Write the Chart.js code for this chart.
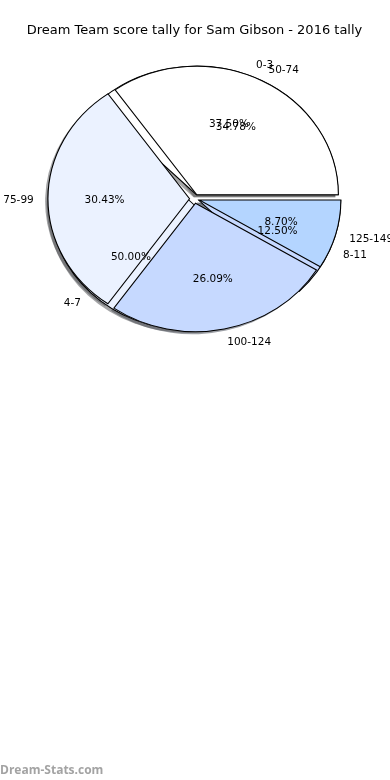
<!DOCTYPE html>
<html>
<head>
<meta charset="utf-8">
<title>Dream Team score tally</title>
<script src="https://cdn.jsdelivr.net/npm/chart.js@4.4.1/dist/chart.umd.min.js"></script>
<style>
  html, body { margin: 0; padding: 0; background: #fff; }
  .wrap { position: relative; width: 390px; height: 780px; }
  .mark {
    position: absolute; left: 0; top: 761px;
    font: bold 12px 'Open Sans', sans-serif; color: #a3a3a3;
  }
</style>
</head>
<body>
<div class="wrap">
  <canvas id="pie"></canvas>
  <div class="mark">Dream-Stats.com</div>
</div>
<script>
// --- DATA --- //
const titleText = 'Dream Team score tally for Sam Gibson - 2016 tally'

// gameweek score bands (drawn underneath)
const weekLabels = ['0-3', '4-7', '8-11']
const weekCounts = [3, 4, 1]
const weekColors = ['#ffffff', '#ebf2ff', '#c6d9ff']

// season point bands (drawn on top)
const seasonLabels = ['50-74', '75-99', '100-124', '125-149']
const seasonCounts = [8, 7, 6, 2]
const seasonColors = ['#ffffff', '#ebf2ff', '#c6d9ff', '#b4d5ff']

// --- LOOK --- //
const SQUASH_X = 1.102 // the pie is a bit wider than tall
const EXPLODE = 4.5    // px every wedge is pushed out from the centre
const SHADOW = 0.02    // shadow offset, fraction of the radius
const TEXT_DROP = 1    // matplotlib centres text a hair lower than canvas 'middle'

Chart.defaults.font.family = "'DejaVu Sans', sans-serif"
Chart.defaults.color = '#000'

// chart.js goes clockwise, the original goes anticlockwise from 3 o'clock,
// so feed the wedges in reverse order and start at 3 o'clock
const rev = arr => arr.slice().reverse()

// 30% of the wedge colour at half alpha, like the matplotlib shadow
function shadowOf(color) {
  const n = parseInt(color.slice(1), 16)
  const r = Math.round(((n >> 16) & 255) * 0.3)
  const g = Math.round(((n >> 8) & 255) * 0.3)
  const b = Math.round((n & 255) * 0.3)
  return `rgba(${r}, ${g}, ${b}, 0.5)`
}

// Plugin: both sets share the full radius, wedges are exploded,
// the pie gets squashed into an ellipse, shadows go below everything
const overlapPie = {
  id: 'overlapPie',
  afterDatasetsUpdate: chart => {
    const outer = chart.getDatasetMeta(0).controller.outerRadius
    const first = chart.getDatasetMeta(0).data[0]
    chart.$centre = { x: first.x, y: first.y }
    chart.data.datasets.forEach((ds, i) => {
      chart.getDatasetMeta(i).data.forEach(arc => {
        const mid = (arc.startAngle + arc.endAngle) / 2
        arc.innerRadius = 0
        arc.outerRadius = outer
        arc.x = chart.$centre.x + Math.cos(mid) * EXPLODE
        arc.y = chart.$centre.y + Math.sin(mid) * EXPLODE
      })
    })
  },
  beforeDatasetsDraw: chart => {
    const ctx = chart.ctx
    const c = chart.$centre
    ctx.save()
    ctx.translate(c.x, c.y)
    ctx.scale(SQUASH_X, 1)
    ctx.translate(-c.x, -c.y)

    // shadows of every wedge first
    chart.data.datasets.forEach((ds, i) => {
      chart.getDatasetMeta(i).data.forEach(arc => {
        const r = arc.outerRadius
        const sx = arc.x - SHADOW * r
        const sy = arc.y + SHADOW * r
        ctx.beginPath()
        ctx.moveTo(sx, sy)
        ctx.arc(sx, sy, r, arc.startAngle, arc.endAngle)
        ctx.closePath()
        ctx.fillStyle = shadowOf(arc.options.backgroundColor)
        ctx.fill()
      })
    })
  },
  afterDatasetsDraw: chart => {
    const ctx = chart.ctx
    ctx.restore()

    const c = chart.$centre
    ctx.save()
    ctx.fillStyle = '#000'
    ctx.font = "10.5px 'DejaVu Sans', sans-serif"
    ctx.textBaseline = 'middle'
    // bottom set first, like the original
    for (let i = chart.data.datasets.length - 1; i >= 0; i--) {
      const ds = chart.data.datasets[i]
      const total = ds.data.reduce((a, b) => a + b, 0)
      chart.getDatasetMeta(i).data.forEach((arc, j) => {
        const mid = (arc.startAngle + arc.endAngle) / 2
        const cos = Math.cos(mid)
        const sin = Math.sin(mid)
        const r = arc.outerRadius

        // category name just outside the rim
        ctx.textAlign = cos > 0 ? 'left' : 'right'
        ctx.fillText(
          ds.names[j],
          c.x + (arc.x - c.x + cos * r * 1.1) * SQUASH_X,
          arc.y + sin * r * 1.1 + TEXT_DROP
        )

        // share inside the wedge
        ctx.textAlign = 'center'
        ctx.fillText(
          `${((ds.data[j] / total) * 100).toFixed(2)}%`,
          c.x + (arc.x - c.x + cos * r * 0.6) * SQUASH_X,
          arc.y + sin * r * 0.6 + TEXT_DROP
        )
      })
    }
    ctx.restore()
  }
}

const wedgeStyle = {
  borderColor: '#000',
  borderWidth: 1,
  borderJoinStyle: 'miter',
  hoverOffset: 0
}

const pieChart = new Chart(document.getElementById('pie'), {
  type: 'pie',
  data: {
    labels: rev(seasonLabels),
    datasets: [
      {
        label: 'Season',
        names: rev(seasonLabels),
        data: rev(seasonCounts),
        backgroundColor: rev(seasonColors),
        ...wedgeStyle
      },
      {
        label: 'Gameweek',
        names: rev(weekLabels),
        data: rev(weekCounts),
        backgroundColor: rev(weekColors),
        ...wedgeStyle
      }
    ]
  },
  options: {
    responsive: true,
    maintainAspectRatio: false,
    animation: false,
    events: [],
    rotation: 90,
    radius: 128.5,
    layout: { padding: { left: 0, right: 1, top: 0, bottom: 430 } },
    plugins: {
      legend: { display: false },
      tooltip: { enabled: false },
      title: {
        display: true,
        text: titleText,
        color: '#000',
        font: { size: 13, weight: 'normal' },
        padding: { top: 23, bottom: 9 }
      }
    }
  },
  plugins: [overlapPie]
})
</script>
</body>
</html>
